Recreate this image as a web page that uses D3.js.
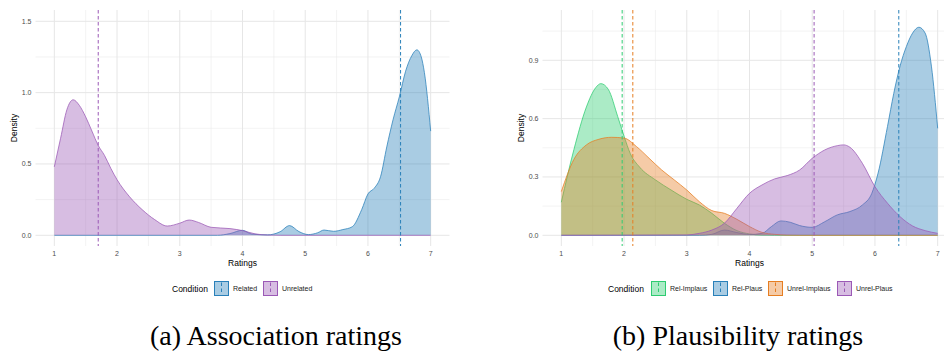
<!DOCTYPE html>
<html>
<head>
<meta charset="utf-8">
<script src="https://cdn.jsdelivr.net/npm/d3@7"></script>
<style>
  body { margin: 0; background: #fff; }
  text { font-family: "Liberation Sans", Arial, sans-serif; }
</style>
</head>
<body>
<div id="chart"></div>
<script>
// ---- data ----
var xTicks = [1, 2, 3, 4, 5, 6, 7];
var assocYTicks = [0, 0.5, 1.0, 1.5];
var plausYTicks = [0, 0.3, 0.6, 0.9];

// (a) association ratings: [rating, density]
var assocRelated = [[1,0],[3.6,0],[3.8,0.012],[4.0,0.035],[4.15,0.008],[4.4,0.003],[4.6,0.025],[4.75,0.068],[4.9,0.026],[5.05,0.005],[5.2,0.018],[5.3,0.037],[5.45,0.028],[5.6,0.04],[5.75,0.06],[5.9,0.18],[6.0,0.29],[6.1,0.33],[6.2,0.41],[6.3,0.62],[6.4,0.81],[6.5,0.97],[6.6,1.15],[6.7,1.26],[6.78,1.30],[6.85,1.25],[6.9,1.14],[7.0,0.73]];
var assocUnrelated = [[1,0.48],[1.1,0.68],[1.2,0.88],[1.3,0.95],[1.4,0.91],[1.5,0.83],[1.6,0.73],[1.7,0.63],[1.8,0.56],[1.9,0.47],[2.0,0.39],[2.2,0.27],[2.4,0.18],[2.6,0.11],[2.8,0.065],[3.0,0.085],[3.15,0.107],[3.3,0.09],[3.5,0.056],[3.8,0.047],[4.0,0.033],[4.2,0.01],[4.4,0.002],[4.6,0],[7,0]];
var assocMeans = [6.52, 1.70];
var assocConditions = ["Related", "Unrelated"];

// (b) plausibility ratings
var relImplaus = [[1,0.17],[1.2,0.44],[1.4,0.66],[1.55,0.76],[1.63,0.78],[1.75,0.75],[1.9,0.61],[2.0,0.51],[2.1,0.42],[2.25,0.35],[2.5,0.285],[2.75,0.233],[3.0,0.185],[3.2,0.156],[3.4,0.113],[3.6,0.062],[3.8,0.024],[4.0,0.007],[4.2,0.001],[4.4,0],[7,0]];
var relPlaus = [[1,0],[3.2,0],[3.4,0.005],[3.6,0.027],[3.8,0.014],[4.0,0.004],[4.2,0.01],[4.35,0.045],[4.5,0.074],[4.65,0.067],[4.8,0.05],[5.0,0.041],[5.2,0.07],[5.4,0.105],[5.6,0.122],[5.8,0.156],[5.95,0.216],[6.05,0.32],[6.2,0.56],[6.3,0.73],[6.4,0.87],[6.5,0.97],[6.6,1.04],[6.7,1.07],[6.8,1.04],[6.9,0.87],[7.0,0.55]];
var unrelImplaus = [[1,0.225],[1.2,0.39],[1.4,0.465],[1.6,0.494],[1.8,0.504],[2.0,0.5],[2.2,0.456],[2.4,0.396],[2.6,0.336],[2.8,0.285],[3.0,0.233],[3.2,0.173],[3.4,0.127],[3.6,0.113],[3.8,0.082],[4.0,0.045],[4.2,0.015],[4.4,0.005],[4.6,0.001],[4.8,0],[7,0]];
var unrelPlaus = [[1,0],[3.0,0.002],[3.2,0.01],[3.4,0.027],[3.6,0.062],[3.8,0.139],[4.0,0.216],[4.2,0.259],[4.4,0.29],[4.6,0.307],[4.8,0.336],[5.0,0.396],[5.2,0.439],[5.4,0.461],[5.5,0.465],[5.6,0.453],[5.8,0.37],[6.0,0.25],[6.2,0.165],[6.4,0.096],[6.6,0.048],[6.8,0.024],[7.0,0.01]];
var plausMeans = [1.97, 6.38, 2.14, 5.03];
var plausConditions = ["Rel-Implaus", "Rel-Plaus", "Unrel-Implaus", "Unrel-Plaus"];

var captions = ["(a) Association ratings", "(b) Plausibility ratings"];

// colours
var cGreen = "#2ecc71", cBlue = "#2980b9", cOrange = "#e67e22", cPurple = "#9b59b6";

var svg = d3.select("#chart").append("svg")
    .attr("width", 944)
    .attr("height", 353);

function drawPanel(opt) {
  var x = d3.scaleLinear().domain([0.7, 7.3]).range([opt.left, opt.left + 414]);
  var y = d3.scaleLinear().domain([0, opt.yRef]).range([235.3, opt.yRefPx]);
  var top = 10, bottom = 246;
  var g = svg.append("g");

  // minor grid
  var minorX = d3.range(1.5, 7, 1);
  var yStep = opt.yTicks[1] - opt.yTicks[0];
  var minorY = opt.yTicks.map(function(d) { return d + yStep / 2; })
    .filter(function(d) { return y(d) > top; });
  g.selectAll(".mx").data(minorX).enter().append("line")
    .attr("x1", d => x(d)).attr("x2", d => x(d))
    .attr("y1", top).attr("y2", bottom)
    .attr("stroke", "#ebebeb").attr("stroke-width", 0.6);
  g.selectAll(".my").data(minorY).enter().append("line")
    .attr("x1", x.range()[0]).attr("x2", x.range()[1])
    .attr("y1", d => y(d)).attr("y2", d => y(d))
    .attr("stroke", "#ebebeb").attr("stroke-width", 0.6);
  // major grid
  g.selectAll(".gx").data(xTicks).enter().append("line")
    .attr("x1", d => x(d)).attr("x2", d => x(d))
    .attr("y1", top).attr("y2", bottom)
    .attr("stroke", "#e6e6e6").attr("stroke-width", 1);
  g.selectAll(".gy").data(opt.yTicks).enter().append("line")
    .attr("x1", x.range()[0]).attr("x2", x.range()[1])
    .attr("y1", d => y(d)).attr("y2", d => y(d))
    .attr("stroke", "#e6e6e6").attr("stroke-width", 1);

  // tick labels
  g.selectAll(".tx").data(xTicks).enter().append("text")
    .attr("x", d => x(d)).attr("y", 255.5)
    .attr("text-anchor", "middle")
    .attr("font-size", 7).attr("fill", "#4d4d4d")
    .text(d => d);
  g.selectAll(".ty").data(opt.yTicks).enter().append("text")
    .attr("x", x.range()[0] - 4).attr("y", d => y(d) + 2.5)
    .attr("text-anchor", "end")
    .attr("font-size", 7).attr("fill", "#4d4d4d")
    .text(d => d3.format(".1f")(d));

  // axis titles
  g.append("text")
    .attr("x", (x(1) + x(7)) / 2).attr("y", 265.5)
    .attr("text-anchor", "middle").attr("font-size", 8.5)
    .text("Ratings");
  g.append("text")
    .attr("transform", "translate(" + (opt.left - 19) + "," + ((top + bottom) / 2) + ") rotate(-90)")
    .attr("text-anchor", "middle").attr("font-size", 8.5)
    .text("Density");

  // densities
  var area = d3.area().curve(d3.curveMonotoneX)
    .x(d => x(d[0])).y0(y(0)).y1(d => y(d[1]));
  var line = d3.line().curve(d3.curveMonotoneX)
    .x(d => x(d[0])).y(d => y(d[1]));
  opt.series.forEach(function(s, i) {
    g.append("path").datum(s).attr("d", area)
      .attr("fill", opt.colors[i]).attr("fill-opacity", 0.4);
    g.append("path").datum(s).attr("d", line)
      .attr("fill", "none").attr("stroke", opt.colors[i]).attr("stroke-width", 0.75);
  });

  // mean lines
  g.selectAll(".mean").data(opt.means).enter().append("line")
    .attr("x1", d => x(d)).attr("x2", d => x(d))
    .attr("y1", top).attr("y2", bottom)
    .attr("stroke", (d, i) => opt.colors[i])
    .attr("stroke-width", 1)
    .attr("stroke-dasharray", "3.5,2.5");

  // legend
  var lg = g.append("g");
  lg.append("text").attr("x", opt.legendX).attr("y", 291.5)
    .attr("font-size", 8.5).text("Condition");
  opt.keyX.forEach(function(kx, i) {
    lg.append("rect").attr("x", kx + 0.5).attr("y", 281.5)
      .attr("width", 14).attr("height", 14)
      .attr("fill", opt.colors[i]).attr("fill-opacity", 0.4)
      .attr("stroke", opt.colors[i]).attr("stroke-width", 1);
    lg.append("line").attr("x1", kx + 7.5).attr("x2", kx + 7.5)
      .attr("y1", 282.5).attr("y2", 294.5)
      .attr("stroke", opt.colors[i]).attr("stroke-width", 1)
      .attr("stroke-dasharray", "3.5,2.5");
    lg.append("text").attr("x", kx + 19).attr("y", 291)
      .attr("font-size", 7).attr("fill", "#1a1a1a")
      .text(opt.conditions[i]);
  });

  // caption
  svg.append("text")
    .attr("x", opt.captionX).attr("y", 345)
    .attr("text-anchor", "middle")
    .style("font-family", "'Liberation Serif', 'DejaVu Serif', serif")
    .attr("font-size", 28)
    .text(opt.caption);
}

drawPanel({
  left: 35.5, yRef: 1.5, yRefPx: 21.3, yTicks: assocYTicks,
  series: [assocRelated, assocUnrelated], means: assocMeans,
  colors: [cBlue, cPurple], conditions: assocConditions,
  legendX: 172, keyX: [214, 263], caption: captions[0], captionX: 276
});
drawPanel({
  left: 542.5, yRef: 0.9, yRefPx: 60.3, yTicks: plausYTicks,
  series: [relImplaus, relPlaus, unrelImplaus, unrelPlaus], means: plausMeans,
  colors: [cGreen, cBlue, cOrange, cPurple], conditions: plausConditions,
  legendX: 608, keyX: [651, 713, 768, 837], caption: captions[1], captionX: 738
});
</script>
</body>
</html>
